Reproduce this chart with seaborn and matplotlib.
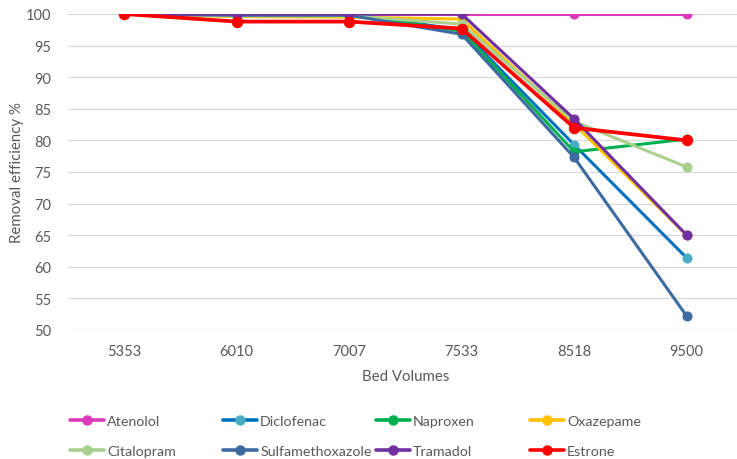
import numpy as np
import pandas as pd
import matplotlib
matplotlib.use("Agg")
import matplotlib.pyplot as plt
import seaborn as sns
from matplotlib.lines import Line2D

# data
bed_volumes = ["5353", "6010", "7007", "7533", "8518", "9500"]
atenolol = [100, 100, 100, 100, 100, 100]
diclofenac = [100, 100, 100, 97.5, 79.3, 61.4]
naproxen = [100, 100, 100, 97.3, 78.2, 80.2]
oxazepame = [100, 99.6, 99.5, 99.2, 82.6, 65.0]
citalopram = [100, 99.7, 99.7, 98.4, 83.0, 75.8]
sulfamethoxazole = [100, 99.8, 99.8, 96.8, 77.3, 52.2]
tramadol = [100, 100, 100, 100, 83.4, 65.0]
estrone = [100, 98.8, 98.8, 97.7, 82.0, 80.0]

compounds = ["Atenolol", "Diclofenac", "Naproxen", "Oxazepame",
             "Citalopram", "Sulfamethoxazole", "Tramadol", "Estrone"]
series = [atenolol, diclofenac, naproxen, oxazepame,
          citalopram, sulfamethoxazole, tramadol, estrone]
line_colors = ["#DB3BBA", "#0070C0", "#00B050", "#FFC000",
               "#A9D08E", "#3D6AA0", "#7030A0", "#FF0000"]
marker_colors = ["#DB3BBA", "#4BACC6", "#00B050", "#FFC000",
                 "#A9D08E", "#3D6AA0", "#7030A0", "#FF0000"]

df = pd.DataFrame({
    "Bed Volumes": bed_volumes * len(compounds),
    "Removal": np.concatenate(series),
    "Compound": np.repeat(compounds, len(bed_volumes)),
})

sns.set_style("white")
plt.rcParams["font.family"] = ["Lato", "DejaVu Sans"]
text_color = "#595959"

fig = plt.figure(figsize=(7.37, 4.6), dpi=100)
ax = fig.add_axes([67.7 / 737, 1 - 331 / 460, (743 - 67.7) / 737, 316 / 460])

handles = []
for name, lc, mc in zip(compounds, line_colors, marker_colors):
    sub = df[df["Compound"] == name]
    lw = 2.7 if name == "Estrone" else 2.2
    ms = 7.5 if name == "Estrone" else 6.5
    sns.lineplot(data=sub, x="Bed Volumes", y="Removal", ax=ax, sort=False,
                 color=lc, lw=lw, marker="o", markersize=ms,
                 markerfacecolor=mc, markeredgecolor=mc, legend=False)
    handles.append(Line2D([], [], color=lc, lw=2.6, marker="o", markersize=6.5,
                          markerfacecolor=mc, markeredgecolor=mc))

ax.set_ylim(50, 100)
ax.set_xlim(-0.5, 5.5)
ax.set_yticks(np.arange(50, 101, 5))
ax.grid(axis="y", color="#D9D9D9", lw=0.9)
ax.grid(axis="x", visible=False)
sns.despine(ax=ax, left=True, bottom=True)
ax.tick_params(axis="both", length=0, labelsize=10.5, labelcolor=text_color)
ax.tick_params(axis="y", pad=12)
ax.tick_params(axis="x", pad=10)
ax.set_xlabel("Bed Volumes", fontsize=10.8, color=text_color, labelpad=8)
ax.set_ylabel("Removal efficiency %", fontsize=10.8, color=text_color, labelpad=1)

# legend: 4 fixed-width columns, 2 rows
col_x = [70, 223, 376, 530]
for i, x in enumerate(col_x):
    fig.legend([handles[i], handles[i + 4]], [compounds[i], compounds[i + 4]],
               loc="center left", bbox_to_anchor=(x / 737, 1 - 437 / 460),
               frameon=False, borderpad=0, borderaxespad=0, fontsize=10.3,
               handlelength=2.35, handletextpad=0.25, labelspacing=1.25,
               labelcolor=text_color)

fig.savefig("out.png", dpi=100)
